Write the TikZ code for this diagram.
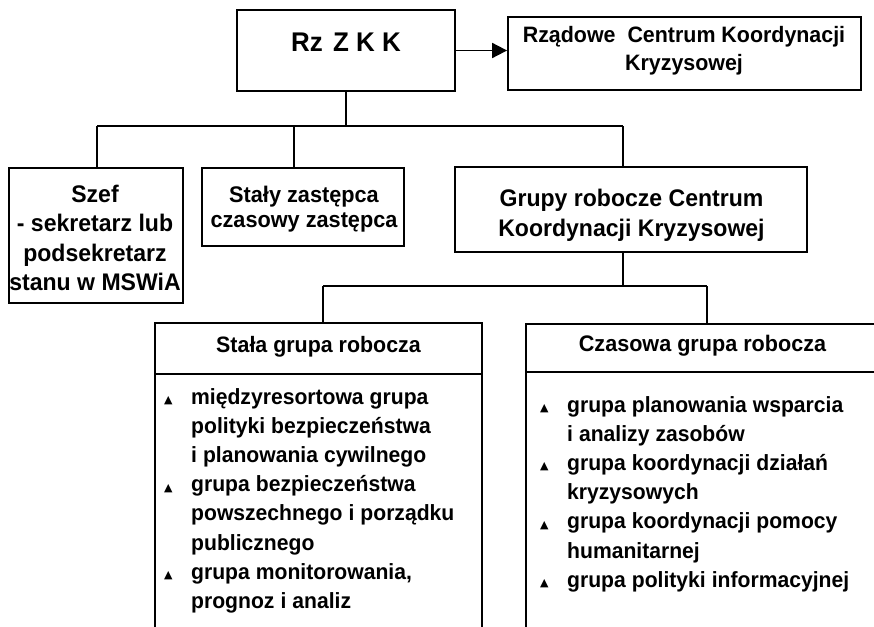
\documentclass[tikz,border=0pt]{standalone}
\usepackage{fontspec}
\newfontfamily\lbl{Liberation Sans}[FakeStretch=0.96]
\newfontfamily\symf{DejaVu Sans}
\usetikzlibrary{arrows.meta}
\newcommand\setfs[2]{\fontsize{#1}{#2}\selectfont}
\newcommand\tri{\makebox[27pt][l]{\raisebox{0.5pt}{\symf\setfs{11}{11}▲}}}
\newcommand\ind{\hspace*{27pt}}
\newcommand\narrowsp{\spaceskip=6pt plus 1pt\relax}
\tikzset{
  box/.style={draw, line width=1.8pt, inner sep=0pt},
  txt/.style={align=center, inner sep=0pt, text=black},
  conn/.style={line width=1.8pt},
  items/.style={align=left, inner sep=0pt, text width=330pt, text=black,
    font=\lbl\bfseries\setfs{22}{29.2}},
}
\begin{document}
\begin{tikzpicture}[x=1pt,y=-1pt]
\clip (0,0) rectangle (874,626);
\fill[white] (0,0) rectangle (874,626);

% top row
\node[box, minimum width=218pt, minimum height=81pt] (rz) at (346,50.5) {};
\node[txt, font=\lbl\bfseries\setfs{27}{32}] (rzt) at (346,42) {Rz\hspace{3pt} Z K K};
\node[box, minimum width=353pt, minimum height=73pt] (rcc) at (684.5,53.5) {};
\node[txt, font=\lbl\bfseries\setfs{22.3}{28}] (rcct) at (684,51) {Rządowe\hspace{6pt} Centrum Koordynacji\\Kryzysowej};
\draw[conn, -{Triangle[length=15pt,width=15pt]}] (rz.east) -- (rz.east -| rcc.west);

% second row
\node[box, minimum width=174pt, minimum height=135pt] (szef) at (96,235.5) {};
\node[txt, font=\lbl\bfseries\setfs{24}{29.5}] (szeft) at (95,238) {Szef\\- sekretarz lub\\podsekretarz\\stanu w MSWiA};
\node[box, minimum width=202pt, minimum height=78pt] (staly) at (303,207) {};
\node[txt, font=\lbl\bfseries\setfs{22.6}{25}] (stalyt) at (304,209) {Stały zastępca\\czasowy zastępca};
\node[box, minimum width=352pt, minimum height=85pt] (grupy) at (631,209.5) {};
\node[txt, font=\lbl\bfseries\setfs{24}{30}] (grupyt) at (631.5,215) {Grupy robocze Centrum\\Koordynacji Kryzysowej};

\coordinate (b1) at (346,126);
\coordinate (d1) at (97,126);
\coordinate (d2) at (294,126);
\coordinate (d3) at (623,126);
\draw[conn] (rz.south) -- (b1);
\draw[conn] (d1) -- (d3);
\draw[conn] (d1) -- (d1 |- szef.north);
\draw[conn] (d2) -- (d2 |- staly.north);
\draw[conn] (d3) -- (d3 |- grupy.north);

% third row
\node[box, minimum width=327pt, minimum height=51pt] (stalah) at (318.5,348.5) {};
\node[txt, font=\lbl\bfseries\setfs{22.3}{28}] (stalaht) at (318.5,347) {Stała grupa robocza};
\node[box, minimum width=327pt, minimum height=266pt] (stalab) at (318.5,507) {};
\node[box, minimum width=374pt, minimum height=48pt] (czash) at (713,348) {};
\node[txt, font=\lbl\bfseries\setfs{22.5}{28}] (czasht) at (702.5,346) {Czasowa grupa robocza};
\node[box, minimum width=374pt, minimum height=268pt] (czasb) at (713,506) {};

\coordinate (e0) at (623,286);
\coordinate (e1) at (323,286);
\coordinate (e2) at (707,286);
\draw[conn] (d3 |- grupy.south) -- (e0);
\draw[conn] (e1) -- (e2);
\draw[conn] (e1) -- (e1 |- stalah.north);
\draw[conn] (e2) -- (e2 |- czash.north);

\node[items, anchor=base west] (stalai) at (164,404) {\narrowsp
\tri międzyresortowa grupa\\
\ind polityki bezpieczeństwa\\
\ind i planowania cywilnego\\
\tri grupa bezpieczeństwa\\
\ind powszechnego i porządku\\
\ind publicznego\\
\tri grupa monitorowania,\\
\ind prognoz i analiz};

\node[items, anchor=base west] (czasi) at (540,412) {\narrowsp
\tri grupa planowania wsparcia\\
\ind i analizy zasobów\\
\tri grupa koordynacji działań\\
\ind kryzysowych\\
\tri grupa koordynacji pomocy\\
\ind humanitarnej\\
\tri grupa polityki informacyjnej};
\end{tikzpicture}
\end{document}
